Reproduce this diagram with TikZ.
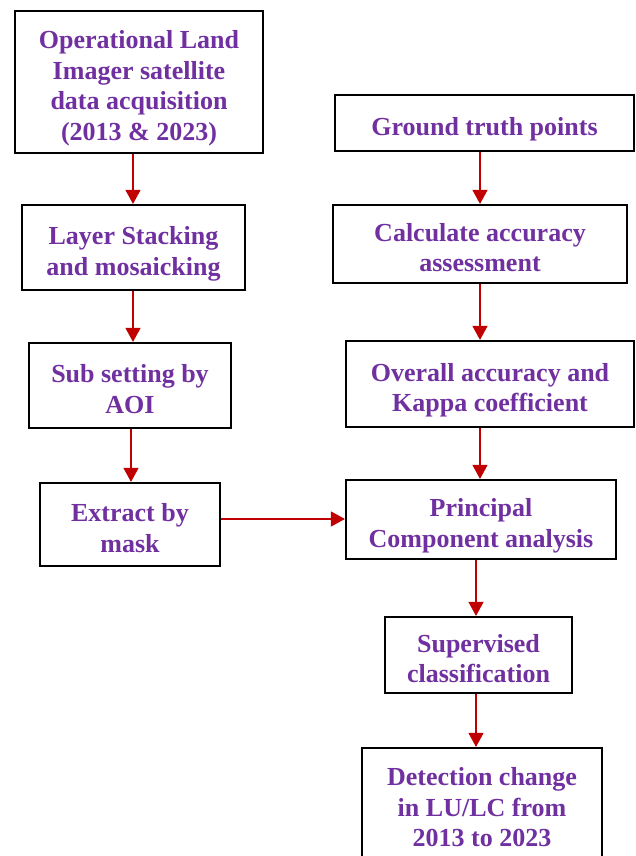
\documentclass[tikz,border=0pt]{standalone}
\usepackage{fontspec}
\setmainfont{Liberation Serif}
\usetikzlibrary{arrows.meta}
\definecolor{txtpurple}{HTML}{7030A0}
\definecolor{arrred}{HTML}{C00000}
\newcommand{\topgap}{\rule{0pt}{24.5pt}}
\begin{document}
\begin{tikzpicture}[x=1pt,y=-1pt,
  box/.style={draw=black, line width=2.2pt, fill=white, align=center, inner sep=0pt,
    font=\fontsize{26}{30.5}\selectfont\bfseries, text=txtpurple, text depth=0pt},
  arr/.style={draw=arrred, line width=1.2pt, -{Triangle[length=14pt,width=15pt]}}]
\useasboundingbox (0,0) rectangle (636,856);
\fill[white] (0,0) rectangle (636,856);
% left column
\node[box, minimum width=248pt, minimum height=142pt] (n1) at (139,82) {\topgap Operational Land\\Imager satellite\\data acquisition\\(2013 \& 2023)};
\node[box, minimum width=223pt, minimum height=85pt] (n2) at (133.5,247.5) {\topgap Layer Stacking\\and mosaicking};
\node[box, minimum width=202pt, minimum height=85pt] (n3) at (130,385.5) {\topgap Sub setting by\\AOI};
\node[box, minimum width=180pt, minimum height=83pt] (n4) at (130,524.5) {\topgap Extract by\\mask};
% right column
\node[box, minimum width=299pt, minimum height=56pt] (n5) at (484.5,123) {\topgap Ground truth points};
\node[box, minimum width=294pt, minimum height=78pt] (n6) at (480,244) {\topgap Calculate accuracy\\assessment};
\node[box, minimum width=288pt, minimum height=86pt] (n7) at (490,384) {\topgap Overall accuracy and\\Kappa coefficient};
\node[box, minimum width=270pt, minimum height=79pt] (n8) at (481,519.5) {\topgap Principal\\Component analysis};
\node[box, minimum width=187pt, minimum height=76pt] (n9) at (478.5,655) {\topgap Supervised\\classification};
\node[box, minimum width=240pt, minimum height=112pt] (n10) at (482,804) {\topgap Detection change\\in LU/LC from\\2013 to 2023};
% arrow columns
\coordinate (xa) at (133,0);
\coordinate (xb) at (131,0);
\coordinate (xr) at (480,0);
\coordinate (xs) at (476,0);
\coordinate (yh) at (0,519);
\draw[arr] (n1.south -| xa) -- (n2.north -| xa);
\draw[arr] (n2.south -| xa) -- (n3.north -| xa);
\draw[arr] (n3.south -| xb) -- (n4.north -| xb);
\draw[arr] (n5.south -| xr) -- (n6.north -| xr);
\draw[arr] (n6.south -| xr) -- (n7.north -| xr);
\draw[arr] (n7.south -| xr) -- (n8.north -| xr);
\draw[arr] (n8.south -| xs) -- (n9.north -| xs);
\draw[arr] (n9.south -| xs) -- (n10.north -| xs);
\draw[arr] (n4.east |- yh) -- (n8.west |- yh);
\end{tikzpicture}
\end{document}
